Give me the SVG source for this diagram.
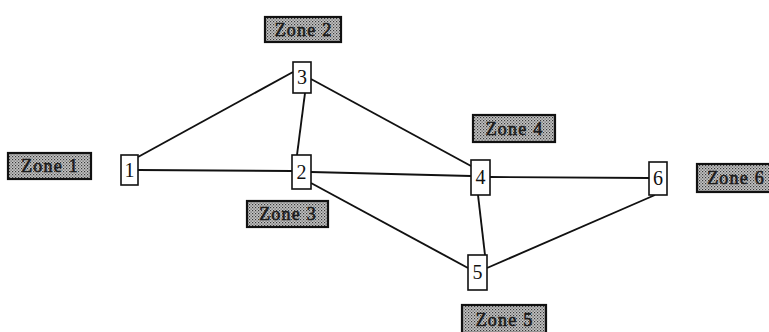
<svg xmlns="http://www.w3.org/2000/svg" width="769" height="332" viewBox="0 0 769 332">
  <defs>
    <!-- halftone fill used behind the zone labels -->
    <pattern id="dots" width="3" height="3" patternUnits="userSpaceOnUse">
      <rect width="3" height="3" fill="#c4c4c4"/>
      <rect x="0" y="0" width="1.2" height="1.2" fill="#3a3a3a"/>
      <rect x="1.5" y="1.5" width="1.2" height="1.2" fill="#5a5a5a"/>
    </pattern>
    <style>
      .zone rect { fill: url(#dots); stroke: #111; stroke-width: 2.2; }
      .zone text { font-family: "Liberation Serif", "Times New Roman", serif; font-size: 18px; letter-spacing: 1.2px; fill: #1a1a1a; stroke: #1a1a1a; stroke-width: 0.6; text-anchor: middle; }
      .node rect { fill: #fff; stroke: #111; stroke-width: 1.6; }
      .node text { font-family: "Liberation Serif", "Times New Roman", serif; font-size: 20px; fill: #111; text-anchor: middle; }
      .links line { stroke: #111; stroke-width: 1.9; fill: none; }
    </style>
  </defs>
  <rect width="769" height="332" fill="#fff"/>

  <!-- connectors -->
  <g id="links" class="links">
    <line x1="138" y1="157" x2="293" y2="72"/>
    <line x1="138" y1="170" x2="292" y2="171"/>
    <line x1="311" y1="172" x2="471" y2="176"/>
    <line x1="490" y1="177" x2="649" y2="178"/>
    <line x1="305" y1="93" x2="297" y2="155"/>
    <line x1="311" y1="79" x2="471" y2="166"/>
    <line x1="311" y1="183" x2="468" y2="268"/>
    <line x1="478" y1="195" x2="485" y2="255"/>
    <line x1="487" y1="268" x2="655" y2="195"/>
  </g>

  <!-- nodes -->
  <g id="node1" class="node"><rect x="121" y="155" width="17" height="30"/><text x="129.5" y="177">1</text></g>
  <g id="node2" class="node"><rect x="292" y="155" width="19" height="34"/><text x="301.5" y="179">2</text></g>
  <g id="node3" class="node"><rect x="293" y="62" width="18" height="31"/><text x="302" y="84">3</text></g>
  <g id="node4" class="node"><rect x="471" y="160" width="19" height="35"/><text x="480.5" y="184">4</text></g>
  <g id="node5" class="node"><rect x="468" y="255" width="19" height="35"/><text x="477.5" y="279">5</text></g>
  <g id="node6" class="node"><rect x="649" y="162" width="18" height="33"/><text x="658" y="185">6</text></g>

  <!-- zone labels -->
  <g id="zone1" class="zone"><rect x="8" y="153" width="83" height="26"/><text x="50" y="172">Zone 1</text></g>
  <g id="zone2" class="zone"><rect x="265" y="17" width="76" height="25"/><text x="303.5" y="36">Zone 2</text></g>
  <g id="zone3" class="zone"><rect x="247" y="201" width="81" height="26"/><text x="288" y="220">Zone 3</text></g>
  <g id="zone4" class="zone"><rect x="473" y="115" width="82" height="27"/><text x="514.5" y="135">Zone 4</text></g>
  <g id="zone5" class="zone"><rect x="462" y="305" width="84" height="28"/><text x="504.5" y="326">Zone 5</text></g>
  <g id="zone6" class="zone"><rect x="697" y="164" width="76" height="28"/><text x="736" y="184">Zone 6</text></g>
</svg>
